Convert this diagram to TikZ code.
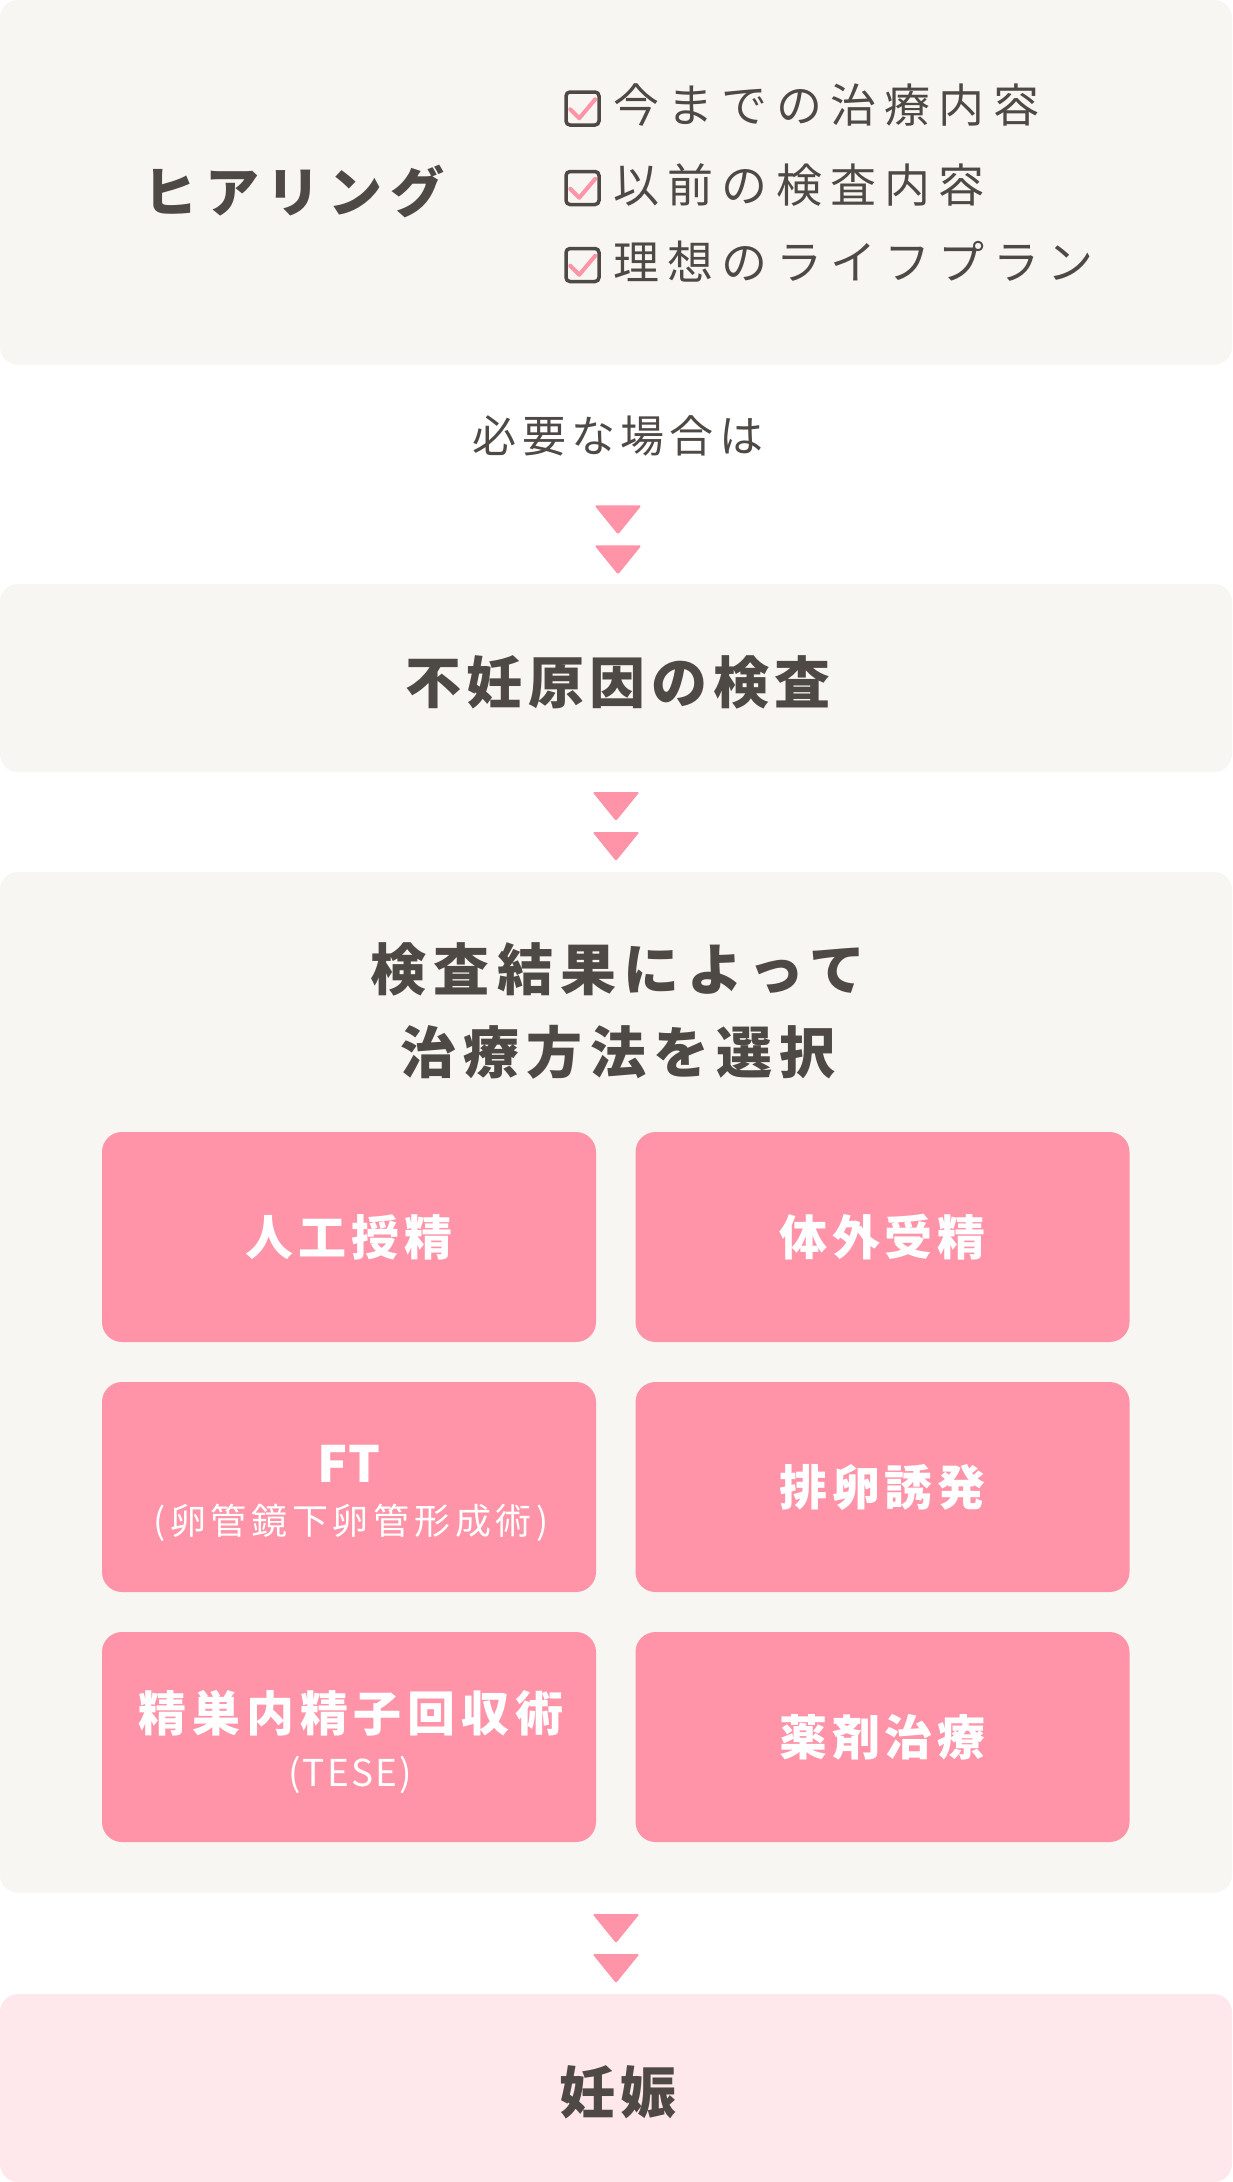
\documentclass[tikz,border=0pt]{standalone}
\usepackage{fontspec}
\usetikzlibrary{calc}
\newfontfamily\jp{Noto Sans CJK JP}
\newcommand\lsp[1]{\addfontfeature{LetterSpace=#1}}
\definecolor{ink}{HTML}{4E4944}
\definecolor{panelbg}{HTML}{F8F6F2}
\definecolor{pinkc}{HTML}{FF93A8}
\definecolor{lightpink}{HTML}{FFE8EC}
\tikzset{
  panel/.style={fill=panelbg, rounded corners=18pt, inner sep=0pt, outer sep=0pt, anchor=north west, minimum width=1232pt},
  pinkbox/.style={fill=pinkc, rounded corners=20pt, inner sep=0pt, minimum width=494pt, minimum height=210pt},
  txt/.style={inner sep=0pt, text=ink, font=\jp},
  btxt/.style={inner sep=0pt, text=ink, font=\jp\bfseries},
  wtxt/.style={inner sep=0pt, text=white, font=\jp\bfseries\fontsize{48}{58}\selectfont\lsp{10}},
  chk/.style={draw=ink, line width=3.5pt, rounded corners=4pt, minimum size=33pt, inner sep=0pt},
  tick/.style={draw=pinkc, line width=4pt, line cap=round, line join=round},
  tri/.style={fill=pinkc, rounded corners=1.5pt},
}
\begin{document}
\begin{tikzpicture}[x=1pt,y=-1pt]
\useasboundingbox (0,0) rectangle (1232,2182);
% panels
\node[panel, minimum height=365pt] (hear) at (0,0) {};
\node[panel, minimum height=188pt] (test) at (0,584) {};
\node[panel, minimum height=1021pt] (sel) at (0,872) {};
\node[panel, minimum height=188pt, fill=lightpink] (preg) at (0,1994) {};
% hearing
\node[btxt, font=\jp\bfseries\fontsize{54}{60}\selectfont\lsp{14}] (hlabel) at (294,191) {ヒアリング};
\foreach \i/\y/\t in {1/108.5/今までの治療内容, 2/188/以前の検査内容, 3/265/理想のライフプラン}{
  \node[chk] (c\i) at (582.5,\y) {};
  \draw[tick] ($(c\i.north west)+(6,19)$) -- ++(9,9) -- ++(16,-19);
  \node[txt, anchor=west, font=\jp\fontsize{46}{56}\selectfont\lsp{18}] (l\i) at (613,\y-3) {\t};
}
% label
\node[txt, font=\jp\fontsize{44}{50}\selectfont\lsp{12}] (need) at (618,436) {必要な場合は};
% test
\node[btxt, font=\jp\bfseries\fontsize{56}{66}\selectfont\lsp{10}] (testl) at (618,682) {不妊原因の検査};
% selection title
\node[btxt, align=center, font=\jp\bfseries\fontsize{56}{83}\selectfont\lsp{13}] (selt) at (618,1011) {検査結果によって\\治療方法を選択};
% pink boxes
\node[pinkbox] (b1) at (349,1237) {};
\node[pinkbox] (b2) at (882.5,1237) {};
\node[pinkbox] (b3) at (349,1487) {};
\node[pinkbox] (b4) at (882.5,1487) {};
\node[pinkbox] (b5) at (349,1737) {};
\node[pinkbox] (b6) at (882.5,1737) {};
\node[wtxt] (t1) at (b1) {人工授精};
\node[wtxt] (t2) at (b2) {体外受精};
\node[wtxt, font=\jp\bfseries\fontsize{50}{58}\selectfont] (t3) at (349,1464) {FT};
\node[inner sep=0pt, text=white, font=\jp\fontsize{36}{44}\selectfont\lsp{13}] (t3s) at (351,1523) {(卵管鏡下卵管形成術)};
\node[wtxt] (t4) at (b4) {排卵誘発};
\node[wtxt, font=\jp\bfseries\fontsize{48}{58}\selectfont\lsp{12}] (t5) at (351,1713) {精巣内精子回収術};
\node[inner sep=0pt, text=white, font=\jp\fontsize{37}{44}\selectfont\lsp{6}] (t5s) at (350,1775) {(TESE)};
\node[wtxt] (t6) at (b6) {薬剤治療};
% pregnancy
\node[btxt, font=\jp\bfseries\fontsize{56}{66}\selectfont\lsp{8}] (pregl) at (618,2092) {妊娠};
% connectors (double triangles)
\coordinate (a1) at ($(need.south)+(0,49)$);
\coordinate (a2) at ($(test.south)+(0,20)$);
\coordinate (a3) at ($(sel.south)+(0,21)$);
\foreach \c in {a1,a2,a3}{
  \fill[tri] (\c) ++(-23.5,0) -- ++(47,0) -- ++(-23.5,29) -- cycle;
  \fill[tri] (\c) ++(-23.5,40) -- ++(47,0) -- ++(-23.5,29) -- cycle;
}
\end{tikzpicture}
\end{document}
